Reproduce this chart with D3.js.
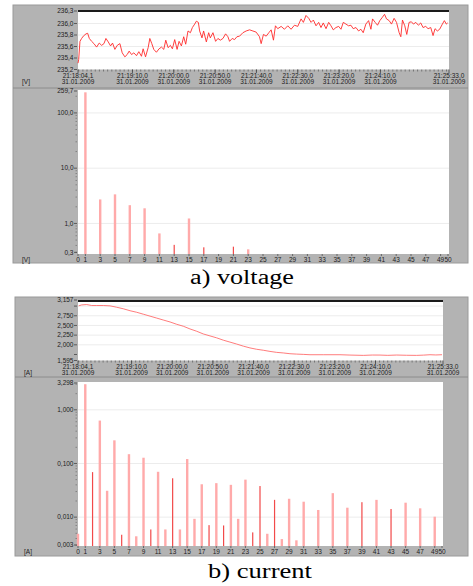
<!DOCTYPE html>
<html>
<head>
<meta charset="utf-8">
<script src="https://cdn.jsdelivr.net/npm/d3@7"></script>
<style>
  body { margin: 0; background: #fff; }
  text { font-family: "Liberation Sans", Arial, sans-serif; font-size: 6.5px; fill: #222; }
  .cap { font-family: "Liberation Serif", "Times New Roman", serif; font-size: 20px; fill: #000; }
</style>
</head>
<body>
<svg id="fig" width="473" height="586"></svg>
<script>
// time axis labels (shared by both recordings)
const timeLabels = ["21:18:04,1", "21:19:10,0", "21:20:00,0", "21:20:50,0", "21:21:40,0",
  "21:22:30,0", "21:23:20,0", "21:24:10,0", "21:25:33,0"];
const dateLabel = "31.01.2009";

// voltage RMS trend: seconds after 21:18:04,1 and volts
const voltSec = [0, 0.8, 2.4, 4.4, 6.4, 9.7, 11.7, 13.7, 16.5, 19.3, 22.5, 25.7, 28.6, 31.4, 33.8,
  36.6, 39.4, 41.8, 44.6, 47.5, 50.7, 53.5, 56.7, 59.5, 61.9, 64.8, 67.6, 70.8, 73.6, 76.8,
  78.8, 81.7, 84.9, 86.9, 89.3, 91.7, 94.9, 98.1, 101.0, 103.8, 106.2, 109.0, 111.8, 114.2,
  117.0, 119.9, 122.3, 125.1, 127.9, 130.3, 133.1, 136.0, 138.4, 141.2, 143.2, 145.6, 147.2,
  150.0, 152.0, 155.3, 158.1, 160.1, 163.3, 166.5, 169.3, 172.2, 175.4, 178.6, 181.4, 183.4,
  186.6, 189.4, 192.3, 195.5, 199.5, 203.5, 207.6, 211.6, 215.6, 219.6, 221.6, 224.4, 227.7,
  230.9, 233.7, 236.5, 238.9, 241.7, 245.8, 249.8, 253.8, 257.8, 261.9, 265.9, 269.9, 272.7,
  275.9, 279.2, 282.0, 284.8, 288.0, 291.2, 294.0, 296.8, 300.1, 303.3, 306.1, 308.9, 312.1,
  315.4, 318.2, 321.0, 324.2, 327.4, 330.2, 333.0, 336.3, 339.5, 342.3, 345.1, 348.3, 351.6,
  354.4, 356.4, 359.6, 362.4, 365.2, 368.4, 370.9, 373.3, 376.5, 379.3, 382.5, 385.4, 388.6,
  390.6, 392.6, 395.4, 397.8, 400.6, 403.4, 405.9, 408.7, 411.9, 414.7, 417.5, 420.7, 423.6,
  426.8, 429.6, 432.0, 434.8, 437.6, 440.9, 443.3, 445.7, 447.3];
const voltVal = [235.31, 235.37, 235.69, 235.74, 235.78, 235.82, 235.83, 235.74, 235.69, 235.65,
  235.59, 235.66, 235.62, 235.65, 235.74, 235.68, 235.61, 235.66, 235.55, 235.62, 235.65,
  235.49, 235.42, 235.46, 235.52, 235.46, 235.49, 235.44, 235.51, 235.43, 235.56, 235.42,
  235.58, 235.74, 235.65, 235.55, 235.50, 235.56, 235.59, 235.55, 235.71, 235.58, 235.62,
  235.56, 235.72, 235.55, 235.69, 235.61, 235.77, 235.64, 235.87, 235.84, 235.93, 235.99,
  236.04, 236.02, 235.87, 235.75, 235.87, 235.68, 235.84, 235.75, 235.84, 235.69, 235.74,
  235.71, 235.74, 235.82, 235.77, 235.69, 235.74, 235.72, 235.77, 235.78, 235.84, 235.87,
  235.89, 235.87, 235.85, 235.77, 235.65, 235.81, 235.78, 235.84, 235.89, 235.71, 235.96,
  235.91, 235.95, 235.90, 235.96, 235.90, 235.97, 235.95, 236.08, 236.02, 236.14, 236.09,
  236.02, 236.06, 235.96, 236.02, 235.93, 236.01, 235.91, 236.02, 235.96, 235.89, 235.93,
  235.95, 235.90, 236.02, 235.99, 235.96, 235.97, 235.91, 235.93, 235.87, 235.90, 235.84,
  235.99, 236.05, 235.90, 236.08, 236.02, 235.97, 236.05, 236.11, 236.16, 236.08, 236.05,
  235.99, 236.09, 236.02, 235.84, 235.77, 236.06, 235.96, 235.81, 236.02, 236.03, 235.99,
  236.02, 235.97, 236.01, 235.93, 235.95, 235.91, 235.93, 235.79, 235.91, 235.87, 235.90,
  235.99, 236.05, 235.99, 236.01];

// current RMS trend: seconds after 21:18:04,1 and amperes
const currSec = [0.8, 4.5, 10.7, 16.8, 23.0, 31.2, 39.4, 47.6, 55.8, 64.0, 72.2, 80.4, 88.6,
  96.8, 104.9, 113.2, 121.4, 129.5, 137.7, 146.0, 154.1, 162.3, 170.5, 178.7, 186.9, 195.1,
  203.4, 211.5, 219.7, 227.9, 236.1, 244.3, 252.5, 260.7, 268.9, 277.1, 285.3, 301.7, 322.2,
  334.5, 350.9, 362.0, 371.4, 381.0, 391.9, 404.0, 416.5, 425.0, 432.9, 440.0, 447.7];
const currVal = [3.006, 3.03, 3.04, 3.015, 3.015, 3.015, 3.006, 2.97, 2.93, 2.88, 2.84, 2.79,
  2.74, 2.69, 2.64, 2.59, 2.53, 2.48, 2.41, 2.35, 2.28, 2.23, 2.18, 2.12, 2.07, 2.02, 1.965,
  1.92, 1.885, 1.86, 1.83, 1.805, 1.79, 1.77, 1.76, 1.753, 1.744, 1.744, 1.744, 1.735, 1.727,
  1.736, 1.735, 1.728, 1.736, 1.73, 1.727, 1.734, 1.744, 1.738, 1.744];

// voltage harmonic spectrum [V]
const voltOrders = [1, 3, 5, 7, 9, 11, 13, 15, 17, 21, 23];
const voltHarm = [235.8, 2.72, 3.36, 2.14, 1.88, 0.66, 0.41, 1.23, 0.37, 0.38, 0.34];
const voltDark = [13, 17, 21];

// current harmonic spectrum [A]
const currOrders = [0, 1, 2, 3, 4, 5, 6, 7, 8, 9, 10, 11, 12, 13, 14, 15, 16, 17, 18, 19, 20,
  21, 22, 23, 24, 25, 26, 27, 28, 29, 30, 31, 33, 35, 37, 39, 41, 43, 45, 47, 49];
const currHarm = [0.0049, 3.0, 0.069, 0.63, 0.031, 0.27, 0.0047, 0.149, 0.0044, 0.128, 0.0059,
  0.070, 0.0059, 0.053, 0.0059, 0.121, 0.0093, 0.041, 0.0071, 0.043, 0.0070, 0.040, 0.0093,
  0.050, 0.0052, 0.038, 0.0049, 0.021, 0.0039, 0.022, 0.0037, 0.0194, 0.0136, 0.028, 0.015,
  0.019, 0.021, 0.0142, 0.0186, 0.0146, 0.0102];
const currDark = [2, 6, 10, 13, 18, 20, 24, 25, 27, 39, 43];

const harmLabels = [0, 1, 3, 5, 7, 9, 11, 13, 15, 17, 19, 21, 23, 25, 27, 29, 31, 33, 35, 37,
  39, 41, 43, 45, 47, 49, 50];

const voltTicks = [235.2, 235.4, 235.6, 235.8, 236.0];
const voltTopLabel = 236.3;
const currTicks = [1.595, 1.75, 2.0, 2.25, 2.5, 2.75, 3.0, 3.157];
const currNoLabel = [1.75, 3.0];
const voltLogTicks = [0.3, 1, 10, 100, 259.7];
const currLogTicks = [0.003, 0.01, 0.1, 1, 3.298];

const svg = d3.select("#fig");
const comma = f => v => d3.format(f)(v).replace(".", ",");

function parseT(s) {
  const [h, m, rest] = s.split(":");
  const sec = +rest.replace(",", ".");
  return new Date(2009, 0, 31, +h, +m, Math.floor(sec), Math.round((sec % 1) * 1000));
}
const t0 = parseT(timeLabels[0]);
const t1 = parseT(timeLabels[timeLabels.length - 1]);
const toDate = s => new Date(t0.getTime() + s * 1000);

function panelBox(x0, y0, x1, y1, sepY) {
  svg.append("rect").attr("x", x0).attr("y", y0).attr("width", x1 - x0).attr("height", y1 - y0)
    .attr("fill", "#b3b3b3").attr("stroke", "#9a9a9a").attr("stroke-width", 1);
  svg.append("line").attr("x1", x0).attr("x2", x1).attr("y1", sepY).attr("y2", sepY)
    .attr("stroke", "#8c8c8c").attr("stroke-width", 1);
}

function yTick(g, x0, y, label) {
  g.append("line").attr("x1", x0 - 4).attr("x2", x0 - 1).attr("y1", y).attr("y2", y)
    .attr("stroke", "#333").attr("stroke-width", 0.7);
  if (label != null) {
    g.append("text").attr("x", x0 - 4.5).attr("y", y).attr("dy", "0.35em")
      .attr("text-anchor", "end").text(label);
  }
}

function trendPlot(o) {
  const g = svg.append("g");
  const x = d3.scaleTime().domain([t0, t1]).range([o.x0, o.x1]);
  const y = d3.scaleLinear().domain(o.yDomain).range([o.y1, o.y0]);
  g.append("rect").attr("x", o.x0).attr("y", o.y0).attr("width", o.x1 - o.x0)
    .attr("height", o.y1 - o.y0).attr("fill", "#fff");
  o.grid.forEach(v => g.append("line").attr("x1", o.x0).attr("x2", o.x1)
    .attr("y1", y(v)).attr("y2", y(v)).attr("stroke", "#ececec").attr("stroke-width", 1));
  g.append("rect").attr("x", o.x0).attr("y", o.y0).attr("width", o.x1 - o.x0)
    .attr("height", 2).attr("fill", "#1a1a1a");

  const line = d3.line().x(d => x(toDate(d[0]))).y(d => y(d[1]));
  g.append("path").datum(d3.zip(o.secs, o.vals)).attr("d", line)
    .attr("fill", "none").attr("stroke", o.color).attr("stroke-width", o.width);

  o.ticks.forEach(v => yTick(g, o.x0, y(v), o.noLabel.includes(v) ? null : o.fmt(v)));
  if (o.topLabel != null) yTick(g, o.x0, o.y0 + 1, o.fmt(o.topLabel));

  // minor time ticks every 5 s, major at labels
  d3.timeSecond.every(5).range(t0, t1).forEach(t => g.append("line")
    .attr("x1", x(t)).attr("x2", x(t)).attr("y1", o.y1).attr("y2", o.y1 + 2)
    .attr("stroke", "#333").attr("stroke-width", 0.5));
  timeLabels.forEach(s => {
    const xx = x(parseT(s));
    g.append("line").attr("x1", xx).attr("x2", xx).attr("y1", o.y1).attr("y2", o.y1 + 3.5)
      .attr("stroke", "#333").attr("stroke-width", 0.7);
    g.append("text").attr("x", xx).attr("y", o.y1 + 8.5).attr("text-anchor", "middle").text(s);
    g.append("text").attr("x", xx).attr("y", o.y1 + 14).attr("text-anchor", "middle").text(dateLabel);
  });
  g.append("text").attr("x", o.unitX).attr("y", o.y1 + 14).text(o.unit);
}

function spectrumPlot(o) {
  const g = svg.append("g");
  const x = d3.scaleLinear().domain([0, 50]).range([o.x0, o.xEnd]);
  const y = d3.scaleLog().domain(o.yDomain).range([o.y1, o.y0]);
  g.append("rect").attr("x", o.x0).attr("y", o.y0).attr("width", o.x1 - o.x0)
    .attr("height", o.y1 - o.y0).attr("fill", "#fff");
  o.grid.forEach(v => g.append("line").attr("x1", o.x0).attr("x2", o.x1)
    .attr("y1", y(v)).attr("y2", y(v)).attr("stroke", "#ececec").attr("stroke-width", 1));

  // bars
  g.selectAll("rect.bar").data(d3.zip(o.orders, o.vals)).join("rect")
    .attr("class", "bar")
    .attr("x", d => x(d[0]) - (o.dark.includes(d[0]) ? 0.6 : 1.2))
    .attr("width", d => o.dark.includes(d[0]) ? 1.2 : 2.4)
    .attr("y", d => y(d[1]))
    .attr("height", d => o.y1 - y(d[1]))
    .attr("fill", d => o.dark.includes(d[0]) ? "#f24a4a" : "#ffaaaa");

  // minor log ticks
  const [lo, hi] = o.yDomain;
  for (let e = Math.floor(Math.log10(lo)); e <= Math.ceil(Math.log10(hi)); e++) {
    for (let k = 2; k <= 9; k++) {
      const v = k * Math.pow(10, e);
      if (v > lo && v < hi) g.append("line").attr("x1", o.x0 - 2.5).attr("x2", o.x0 - 1)
        .attr("y1", y(v)).attr("y2", y(v)).attr("stroke", "#555").attr("stroke-width", 0.5);
    }
  }
  o.ticks.forEach(v => yTick(g, o.x0, Math.min(Math.max(y(v), o.y0 + 1), o.y1 - 1), o.fmt(v)));

  harmLabels.forEach(n => {
    g.append("line").attr("x1", x(n)).attr("x2", x(n)).attr("y1", o.y1).attr("y2", o.y1 + 2)
      .attr("stroke", "#333").attr("stroke-width", 0.6);
    g.append("text").attr("x", x(n)).attr("y", o.y1 + 8).attr("text-anchor", "middle").text(n);
  });
  g.append("text").attr("x", o.unitX).attr("y", o.y1 + 8).text(o.unit);
}

// ---- a) voltage ----
panelBox(13, 5, 468, 263, 88);
trendPlot({
  x0: 78, x1: 449, y0: 10, y1: 69.5, yDomain: [235.2, 236.235],
  secs: voltSec, vals: voltVal, color: "#ff2a2a", width: 0.9,
  ticks: voltTicks, noLabel: [], topLabel: voltTopLabel, fmt: comma(".1f"),
  grid: [235.4, 235.6, 235.8, 236.0], unit: "[V]", unitX: 22
});
spectrumPlot({
  x0: 78, x1: 449, xEnd: 448, y0: 90, y1: 254, yDomain: [0.28, 259.7],
  orders: voltOrders, vals: voltHarm, dark: voltDark,
  ticks: voltLogTicks, fmt: comma(".1f"), grid: [1, 10, 100], unit: "[V]", unitX: 22
});
svg.append("text").attr("class", "cap").attr("x", 242).attr("y", 284)
  .attr("text-anchor", "middle").attr("textLength", 104).attr("lengthAdjust", "spacingAndGlyphs")
  .text("a) voltage");

// ---- b) current ----
panelBox(15, 297, 468, 556, 377);
trendPlot({
  x0: 78, x1: 443, y0: 300, y1: 360.5, yDomain: [1.595, 3.157],
  secs: currSec, vals: currVal, color: "#ff5a5a", width: 0.8,
  ticks: currTicks, noLabel: currNoLabel, topLabel: null, fmt: comma(".3f"),
  grid: [2.0, 2.25, 2.5, 2.75, 3.0], unit: "[A]", unitX: 24
});
spectrumPlot({
  x0: 78, x1: 443, xEnd: 442, y0: 382, y1: 546, yDomain: [0.0029, 3.298],
  orders: currOrders, vals: currHarm, dark: currDark,
  ticks: currLogTicks, fmt: comma(".3f"), grid: [0.01, 0.1, 1], unit: "[A]", unitX: 24
});
svg.append("text").attr("class", "cap").attr("x", 260).attr("y", 578)
  .attr("text-anchor", "middle").attr("textLength", 104).attr("lengthAdjust", "spacingAndGlyphs")
  .text("b) current");
</script>
</body>
</html>
